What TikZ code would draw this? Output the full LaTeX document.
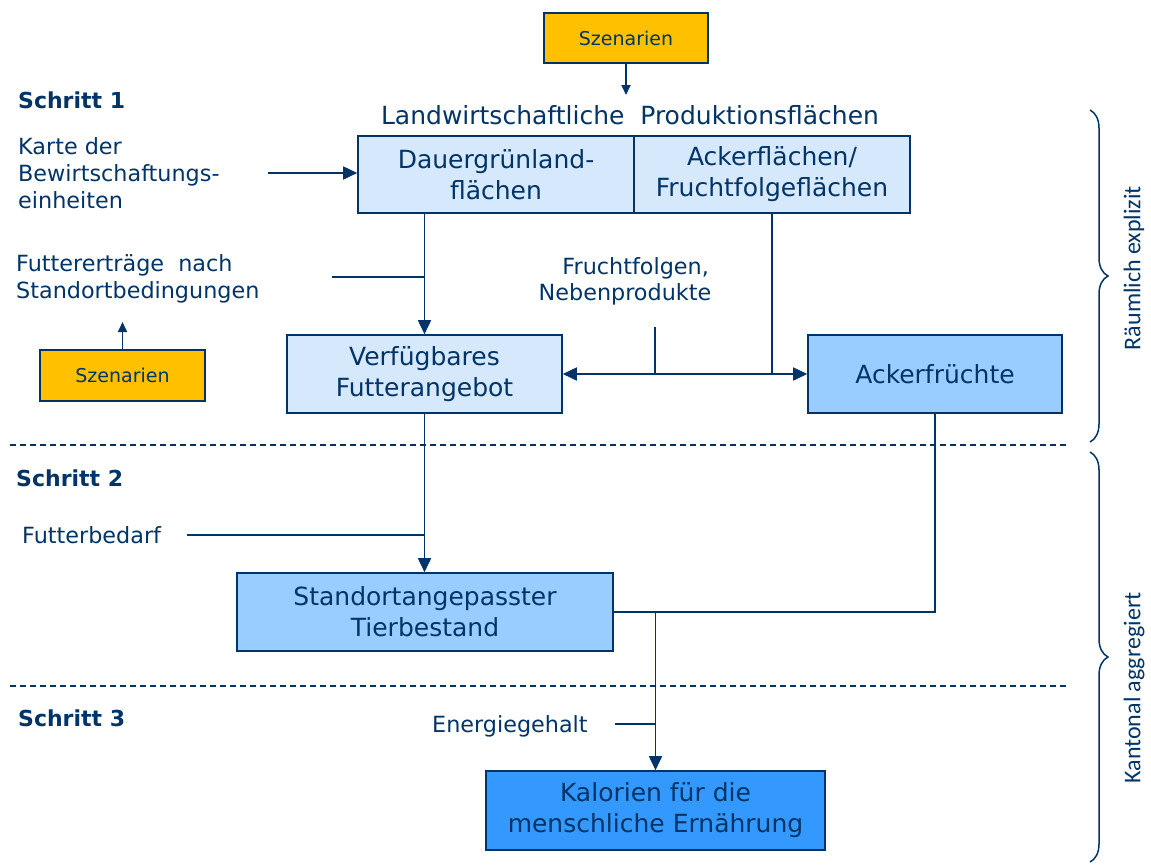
\documentclass[tikz,border=0pt]{standalone}
\usepackage{fontspec}
\setmainfont{DejaVu Sans}
\newfontfamily\calif{Carlito}
\usetikzlibrary{arrows.meta,decorations.pathreplacing}
\definecolor{navy}{RGB}{0,51,102}
\definecolor{lightbox}{RGB}{213,232,252}
\definecolor{midbox}{RGB}{153,204,255}
\definecolor{darkbox}{RGB}{51,153,255}
\definecolor{gold}{RGB}{255,192,0}
\begin{document}
\begin{tikzpicture}[x=1pt,y=-1pt,
  every node/.style={text=navy},
  box/.style={draw=navy, line width=1.6pt, align=center, inner sep=0pt, font=\fontsize{25}{31}\selectfont},
  ybox/.style={draw=navy, line width=1.6pt, fill=gold, inner sep=0pt, font=\fontsize{19}{23}\selectfont},
  lbl/.style={align=left, anchor=west, inner sep=0pt, font=\fontsize{22.3}{27}\selectfont},
  steplbl/.style={anchor=west, inner sep=0pt, font=\bfseries\fontsize{22}{27}\selectfont},
  side/.style={rotate=90, inner sep=0pt, font=\calif\fontsize{24}{28}\selectfont},
  conn/.style={draw=navy, line width=1.7pt},
  arr/.style={conn, -{Triangle[length=14pt,width=13pt]}},
  sarr/.style={conn, -{Triangle[length=10pt,width=9pt]}},
  darr/.style={conn, {Triangle[length=14pt,width=13pt]}-{Triangle[length=14pt,width=13pt]}},
  sep/.style={draw=navy, line width=1.2pt, dash pattern=on 6pt off 4pt},
  brc/.style={draw=navy, line width=1.5pt, decorate, decoration={brace, amplitude=18pt, aspect=0.5}}
]
\useasboundingbox (0,0) rectangle (1151,865);

% boxes
\node[ybox, minimum width=164, minimum height=50] (sz1) at (626,38) {Szenarien};
\node[ybox, minimum width=165, minimum height=51] (sz2) at (122.5,375.5) {Szenarien};
\node[font=\fontsize{25}{30}\selectfont, inner sep=0pt] (hdr) at (630,115) {Landwirtschaftliche\ \ Produktionsflächen};
\node[box, fill=lightbox, minimum width=276, minimum height=77] (dau) at (496,174.5) {Dauergrünland-\\flächen};
\node[box, fill=lightbox, minimum width=276, minimum height=77] (ack) at (772,174.5) {Ackerflächen/\\Fruchtfolgeflächen};
\node[box, fill=lightbox, minimum width=275, minimum height=78] (verf) at (424.5,374) {Verfügbares\\Futterangebot};
\node[box, fill=midbox, minimum width=254, minimum height=78] (ackf) at (935,374) {Ackerfrüchte};
\node[box, fill=midbox, minimum width=376, minimum height=78] (stand) at (425,612) {Standortangepasster\\Tierbestand};
\node[box, fill=darkbox, minimum width=339, minimum height=79] (kal) at (655.5,810.5) {Kalorien für die\\menschliche Ernährung};

% labels
\node[steplbl] (s1) at (18,100) {Schritt 1};
\node[steplbl] (s2) at (16,478) {Schritt 2};
\node[steplbl] (s3) at (18,718) {Schritt 3};
\node[lbl] (karte) at (18,173) {Karte der\\Bewirtschaftungs-\\einheiten};
\node[lbl] (futter) at (16,279) {Futtererträge\ \ nach\\Standortbedingungen};
\node[align=center, inner sep=0pt, font=\fontsize{22.3}{26}\selectfont] (frucht) at (625,281) {\ \ \ Fruchtfolgen,\\Nebenprodukte};
\node[lbl] (fbed) at (22,535) {Futterbedarf};
\node[lbl] (energ) at (432,726) {Energiegehalt};
\node[side] (raum) at (1134,268) {Räumlich explizit};
\node[side] (kant) at (1134,688) {Kantonal aggregiert};

% free ends
\coordinate (szend) at (626,95);
\coordinate (kstart) at (268,173);
\coordinate (fstart) at (332,277);
\coordinate (sz2end) at (122.5,322);
\coordinate (fnstart) at (655,327);
\coordinate (fbstart) at (187,535);
\coordinate (egstart) at (615,724);

% connectors
\draw[sarr] (sz1.south) -- (szend);
\draw[arr] (kstart) -- (kstart -| dau.west);
\draw[arr] (verf.north |- dau.south) -- (verf.north);
\draw[conn] (fstart) -- (fstart -| verf.north);
\draw[sarr] (sz2.north) -- (sz2end);
\draw[conn] (ack.south) -- (ack.south |- ackf.west);
\draw[darr] (verf.east) -- (ackf.west);
\draw[conn] (fnstart) -- (fnstart |- verf.east);
\draw[arr] (verf.south) -- (verf.south |- stand.north);
\draw[conn] (fbstart) -- (fbstart -| verf.south);
\draw[conn] (ackf.south) |- (stand.east);
\draw[arr] (kal.north |- stand.east) -- (kal.north);
\draw[conn] (egstart) -- (egstart -| kal.north);

% separators
\draw[sep] (10,445) -- (1068,445);
\draw[sep] (10,686) -- (1068,686);

% braces
\draw[brc] (1090,110) -- (1090,442);
\draw[brc] (1090,452) -- (1090,862);
\end{tikzpicture}
\end{document}
